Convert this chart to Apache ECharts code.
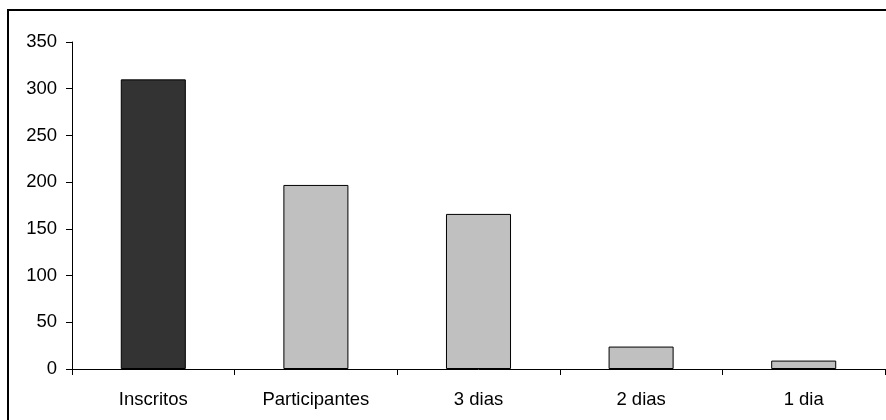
<!DOCTYPE html>
<html>
<head>
<meta charset="utf-8">
<script src="https://cdn.jsdelivr.net/npm/echarts@6/dist/echarts.min.js"></script>
<style>
  html, body { margin: 0; padding: 0; background: #ffffff; }
  #chart { width: 886px; height: 420px; }
</style>
</head>
<body>
<div id="chart"></div>
<script>
// Categories and counts
const categories = ['Inscritos', 'Participantes', '3 dias', '2 dias', '1 dia'];
const values = [310, 197, 166, 24, 9];
// Bar fill per category: registered total in dark, attendance breakdown in light grey
const barColors = ['#333333', '#c0c0c0', '#c0c0c0', '#c0c0c0', '#c0c0c0'];
const yTicks = { min: 0, max: 350, interval: 50 };

const chart = echarts.init(document.getElementById('chart'), null, { renderer: 'canvas' });

const font = '"Liberation Sans", Arial, sans-serif';

chart.setOption({
  animation: false,
  backgroundColor: '#ffffff',
  graphic: [{
    type: 'rect',
    shape: { x: 8, y: 10, width: 900, height: 430 },
    style: { fill: 'none', stroke: '#000000', lineWidth: 2 },
    silent: true,
    z: 0
  }],
  grid: { left: 72, right: 1, top: 42, bottom: 51 },
  xAxis: {
    type: 'category',
    data: categories,
    axisLine: { lineStyle: { color: '#000000', width: 1 } },
    axisTick: { show: true, inside: false, length: 6, alignWithLabel: false, lineStyle: { color: '#000000' } },
    axisLabel: { color: '#000000', fontFamily: font, fontSize: 18.5, margin: 21 },
    splitLine: { show: false }
  },
  yAxis: {
    type: 'value',
    min: yTicks.min,
    max: yTicks.max,
    interval: yTicks.interval,
    axisLine: { show: true, lineStyle: { color: '#000000', width: 1 } },
    axisTick: { show: true, inside: false, length: 6, lineStyle: { color: '#000000' } },
    axisLabel: { color: '#000000', fontFamily: font, fontSize: 18.5, margin: 15 },
    splitLine: { show: false }
  },
  series: [{
    type: 'bar',
    data: values.map((v, i) => ({
      value: v,
      itemStyle: { color: barColors[i] }
    })),
    barWidth: '40%',
    itemStyle: { borderColor: '#000000', borderWidth: 1 },
    z: 2
  }]
});
</script>
</body>
</html>
